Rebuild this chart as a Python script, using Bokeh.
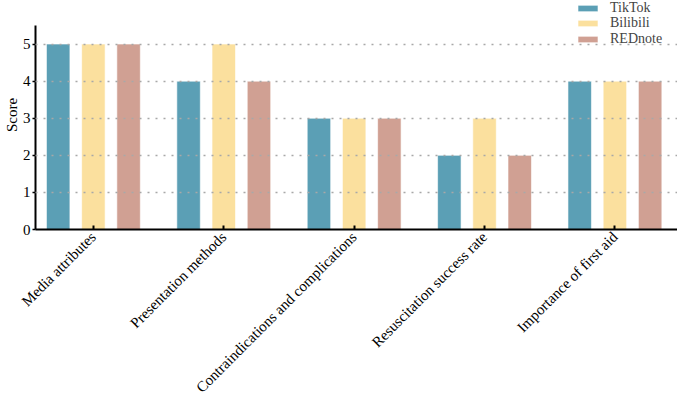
from bokeh.plotting import figure
from bokeh.models import ColumnDataSource, Range1d, FixedTicker, Legend, LegendItem
from bokeh.transform import dodge
from bokeh.embed import file_html
from bokeh.resources import INLINE

categories = ["Media attributes", "Presentation methods", "Contraindications and complications",
              "Resuscitation success rate", "Importance of first aid"]
tiktok = [5, 4, 3, 2, 4]
bilibili = [5, 5, 3, 3, 4]
rednote = [5, 4, 3, 2, 4]
series_names = ["TikTok", "Bilibili", "REDnote"]
colors = ["#5b9fb5", "#fbe09e", "#d0a093"]
y_ticks = [0, 1, 2, 3, 4, 5]

FONT = "Liberation Serif"

src = ColumnDataSource(dict(x=list(range(len(categories))), TikTok=tiktok, Bilibili=bilibili, REDnote=rednote))

# frame reaches the top edge so the legend is not clipped; axis line is bounded to 0..5.5
p = figure(width=677, height=404, output_backend="svg", toolbar_location=None,
           x_range=Range1d(-0.444, 4.48), y_range=Range1d(0, 6.174),
           min_border_left=31, min_border_right=0, min_border_top=0, min_border_bottom=175)
p.outline_line_color = None
p.background_fill_color = "white"

offsets = [-0.27, 0.0, 0.27]
renderers = []
for name, col, off in zip(series_names, colors, offsets):
    r = p.vbar(x=dodge("x", off, range=p.x_range), top=name, width=0.18, source=src,
               fill_color=col, line_color="white", line_width=0.6)
    renderers.append(r)

# axes
p.xaxis.ticker = FixedTicker(ticks=list(range(len(categories))))
p.xaxis.major_label_overrides = {i: c for i, c in enumerate(categories)}
p.xaxis.major_label_orientation = 0.785398
p.xaxis.major_label_text_font = FONT
p.xaxis.major_label_text_font_size = "15px"
p.xaxis.major_label_text_color = "black"
p.xaxis.major_tick_in = 4
p.xaxis.major_tick_out = 0
p.xaxis.minor_tick_line_color = None
p.xaxis.axis_line_width = 2
p.xaxis.major_tick_line_width = 2
p.xaxis.major_label_standoff = 5

p.yaxis.ticker = FixedTicker(ticks=y_ticks)
p.yaxis.bounds = (0, 5.5)
p.yaxis.major_label_text_font = FONT
p.yaxis.major_label_text_font_size = "15px"
p.yaxis.major_label_text_color = "black"
p.yaxis.major_tick_in = 0
p.yaxis.major_tick_out = 3
p.yaxis.minor_tick_line_color = None
p.yaxis.axis_line_width = 2
p.yaxis.major_tick_line_width = 1.5
p.yaxis.major_label_standoff = 2
p.yaxis.axis_label = "Score"
p.yaxis.axis_label_text_font = FONT
p.yaxis.axis_label_text_font_style = "normal"
p.yaxis.axis_label_text_font_size = "15px"
p.yaxis.axis_label_text_color = "black"
p.yaxis.axis_label_standoff = 0

p.xgrid.grid_line_color = None
p.ygrid.ticker = FixedTicker(ticks=[1, 2, 3, 4, 5])
p.ygrid.grid_line_color = "#a8a8a8"
p.ygrid.grid_line_dash = "2 6"
p.ygrid.grid_line_width = 1.5
p.ygrid.level = "overlay"

# one single-item legend per series, so the row pitch matches the reference
legend_y = [213.5, 198, 182.5]
for n, r, ly in zip(series_names, renderers, legend_y):
    lg = Legend(items=[LegendItem(label=n, renderers=[r])], location=(540, ly), orientation="vertical")
    lg.border_line_color = None
    lg.background_fill_alpha = 0
    lg.padding = 0
    lg.margin = 0
    lg.spacing = 0
    lg.glyph_width = 25
    lg.glyph_height = 8
    lg.label_height = 13
    lg.label_standoff = 10
    lg.label_text_font = FONT
    lg.label_text_font_size = "14px"
    lg.label_text_baseline = "middle"
    p.add_layout(lg, "center")

open("out.html", "w").write(file_html(p, INLINE))
